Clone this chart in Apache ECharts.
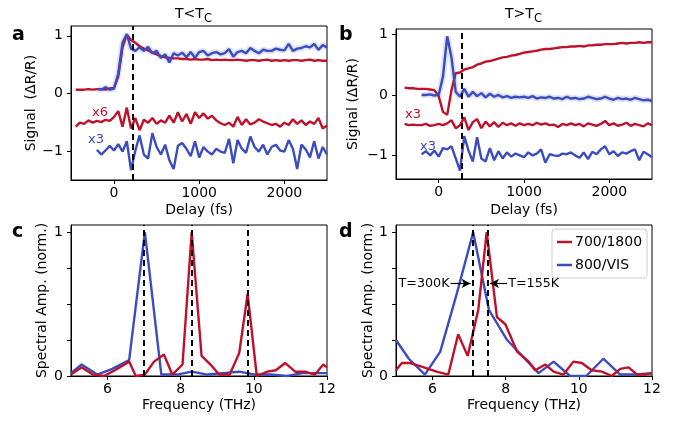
<!DOCTYPE html>
<html><head><meta charset="utf-8">
<script src="https://cdn.jsdelivr.net/npm/echarts@6/dist/echarts.min.js"></script>
<style>html,body{margin:0;padding:0;background:#fff}#c{width:682px;height:421px}</style>
</head><body><div id="c"></div>
<script>
// ---------- Panel a (T<Tc) ----------
const delayA = [-450,-400,-350,-300,-250,-200,-150,-100,-50,0,50,100,150,200,250,300,350,400,450,500,550,600,650,700,750,800,850,900,950,1000,1050,1100,1150,1200,1250,1300,1350,1400,1450,1500,1550,1600,1650,1700,1750,1800,1850,1900,1950,2000,2050,2100,2150,2200,2250,2300,2350,2400,2450,2500];
const aRedMain = [0.07,0.07,0.07,0.08,0.07,0.08,0.08,0.07,0.09,0.10,0.30,0.80,1.02,0.93,0.88,0.82,0.78,0.75,0.71,0.68,0.65,0.63,0.62,0.61,0.61,0.60,0.60,0.59,0.60,0.59,0.59,0.60,0.58,0.59,0.58,0.59,0.58,0.58,0.59,0.58,0.57,0.58,0.58,0.57,0.58,0.59,0.57,0.58,0.57,0.58,0.57,0.58,0.58,0.57,0.58,0.59,0.57,0.58,0.57,0.57];
const aBlueMain = [null,null,null,null,null,0.08,0.07,0.11,0.07,0.09,0.35,0.88,1.03,0.78,0.74,0.80,0.74,0.81,0.70,0.74,0.62,0.68,0.54,0.70,0.66,0.71,0.63,0.72,0.62,0.72,0.74,0.66,0.70,0.72,0.68,0.70,0.77,0.64,0.72,0.74,0.70,0.79,0.74,0.70,0.76,0.74,0.74,0.78,0.76,0.75,0.86,0.74,0.78,0.79,0.82,0.80,0.86,0.76,0.84,0.80];
const aRedX6 = [-0.57,-0.50,-0.52,-0.46,-0.50,-0.47,-0.49,-0.45,-0.47,-0.40,-0.30,-0.57,-0.24,-0.60,-0.42,-0.63,-0.45,-0.50,-0.42,-0.52,-0.46,-0.50,-0.38,-0.50,-0.32,-0.48,-0.35,-0.52,-0.32,-0.42,-0.34,-0.43,-0.38,-0.46,-0.51,-0.54,-0.50,-0.57,-0.40,-0.54,-0.44,-0.53,-0.50,-0.44,-0.48,-0.51,-0.54,-0.52,-0.57,-0.50,-0.54,-0.44,-0.52,-0.46,-0.54,-0.48,-0.52,-0.42,-0.60,-0.55];
const aBlueX3 = [null,null,null,null,null,-0.97,-1.05,-0.98,-0.90,-0.98,-0.87,-1.00,-0.82,-1.32,-0.98,-0.72,-1.05,-1.12,-0.68,-0.92,-1.05,-0.88,-1.15,-1.30,-0.90,-0.85,-0.95,-1.08,-0.82,-1.10,-0.92,-1.00,-1.05,-0.95,-1.00,-1.02,-0.78,-1.20,-0.80,-0.95,-1.02,-0.74,-0.92,-1.00,-0.88,-1.05,-0.92,-0.88,-0.98,-1.00,-0.80,-0.95,-1.30,-0.88,-0.96,-1.10,-0.82,-1.12,-0.92,-1.05];
const markA = 220;

// ---------- Panel b (T>Tc) ----------
const delayB = [-400,-350,-300,-250,-200,-150,-100,-50,0,50,100,150,200,250,300,350,400,450,500,550,600,650,700,750,800,850,900,950,1000,1050,1100,1150,1200,1250,1300,1350,1400,1450,1500,1550,1600,1650,1700,1750,1800,1850,1900,1950,2000,2050,2100,2150,2200,2250,2300,2350,2400,2450,2500];
const bRedMain = [0.12,0.11,0.11,0.10,0.10,0.10,0.09,0.08,-0.02,-0.28,-0.33,0.08,0.36,0.37,0.42,0.44,0.46,0.50,0.52,0.55,0.56,0.58,0.60,0.62,0.63,0.65,0.66,0.68,0.70,0.71,0.72,0.73,0.75,0.76,0.76,0.77,0.78,0.79,0.79,0.80,0.80,0.81,0.80,0.82,0.82,0.83,0.83,0.84,0.84,0.84,0.85,0.86,0.85,0.86,0.86,0.87,0.86,0.87,0.87];
const bBlueMain = [null,null,null,null,0.00,0.00,0.01,-0.01,0.00,0.30,0.97,0.62,0.05,-0.03,0.10,-0.03,0.05,-0.02,0.03,-0.04,0.02,-0.03,0.00,-0.04,-0.02,-0.05,-0.03,-0.04,-0.03,-0.05,-0.02,-0.06,-0.04,-0.05,-0.03,-0.06,-0.05,-0.07,-0.03,-0.06,-0.05,-0.07,-0.06,-0.03,-0.05,-0.07,-0.06,-0.03,-0.06,-0.08,-0.05,-0.07,-0.06,-0.08,-0.05,-0.07,-0.09,-0.08,-0.10];
const bRedX3 = [-0.48,-0.50,-0.49,-0.50,-0.50,-0.48,-0.51,-0.50,-0.48,-0.50,-0.47,-0.42,-0.55,-0.50,-0.37,-0.58,-0.45,-0.40,-0.55,-0.44,-0.52,-0.45,-0.53,-0.46,-0.50,-0.47,-0.51,-0.47,-0.50,-0.48,-0.50,-0.46,-0.49,-0.47,-0.50,-0.49,-0.53,-0.48,-0.50,-0.47,-0.50,-0.48,-0.52,-0.47,-0.49,-0.51,-0.48,-0.43,-0.50,-0.47,-0.51,-0.49,-0.46,-0.51,-0.48,-0.50,-0.52,-0.47,-0.50];
const bBlueX3 = [null,null,null,null,-0.98,-0.93,-1.00,-0.92,-1.02,-0.88,-0.90,-0.85,-1.05,-1.25,-0.68,-0.92,-1.10,-0.70,-1.05,-1.10,-0.88,-1.08,-0.93,-1.05,-0.95,-1.02,-0.97,-1.00,-1.03,-0.95,-1.00,-0.97,-0.90,-1.12,-0.98,-1.00,-1.01,-0.97,-0.98,-0.95,-1.00,-1.04,-0.95,-1.06,-0.94,-0.98,-0.90,-0.85,-0.98,-0.93,-1.01,-0.95,-0.97,-0.93,-0.90,-1.08,-0.94,-0.98,-1.03];
const markB = 270;

// ---------- Panel c (spectra, T<Tc) ----------
const freqRedC = [5.0,5.29,5.6,5.9,6.2,6.59,6.77,7.02,7.27,7.54,7.77,8.05,8.3,8.57,8.85,9.05,9.34,9.6,9.83,10.08,10.37,10.6,10.86,11.13,11.4,11.67,11.9,12.0];
const ampRedC  = [0.01,0.06,0.01,0.0,0.04,0.10,0.0,0.01,0.10,0.15,0.01,0.08,1.0,0.14,0.07,0.01,0.01,0.16,0.57,0.0,0.03,0.04,0.09,0.03,0.03,0.01,0.08,0.06];
const freqBlueC = [5.0,5.29,5.72,6.13,6.59,7.02,7.47,7.9,8.3,8.73,9.16,9.6,10.03,10.46,10.9,11.33,11.76,12.0];
const ampBlueC  = [0.02,0.08,0.01,0.05,0.11,1.0,0.01,0.01,0.03,0.01,0.02,0.03,0.01,0.01,0.0,0.02,0.02,0.02];
const marksC = [7.0, 8.3, 9.83];

// ---------- Panel d (spectra, T>Tc) ----------
const freqRedD = [5.0,5.16,5.39,5.7,6.11,6.43,6.7,6.96,7.25,7.48,7.76,7.99,8.31,8.63,8.81,9.08,9.31,9.58,9.85,10.08,10.35,10.63,10.9,11.13,11.36,11.59,11.8,12.0];
const ampRedD  = [0.04,0.09,0.09,0.065,0.03,0.01,0.29,0.14,0.46,1.0,0.41,0.36,0.17,0.10,0.04,0.08,0.03,0.01,0.10,0.09,0.04,0.03,0.0,0.05,0.06,0.01,0.01,0.02];
const freqBlueD = [5.0,5.35,5.79,6.21,6.67,7.11,7.54,8.04,8.45,8.9,9.31,9.76,10.2,10.67,11.13,11.56,12.0];
const ampBlueD  = [0.25,0.12,0.01,0.17,0.58,1.0,0.46,0.25,0.14,0.02,0.10,0.0,0.0,0.12,0.01,0.01,0.02];
const marksD = [7.1, 7.5];

const seriesNames = ['700/1800', '800/VIS'];
const timeTicks = [0, 1000, 2000];
const sigTicks = [-1, 0, 1];
const freqTicks = [6, 8, 10, 12];
const ampTicks = [0, 0.25, 0.5, 0.75, 1];
const ampLabels = [0, 1];

const RED = '#c0112b', BLUE = '#3b4cc0', BAND = 'rgba(59,76,192,0.16)';
const FONT = 'DejaVu Sans';
const minus = v => String(v).replace('-', '\u2212');
function pairs(x, y) { const o = []; for (let i = 0; i < x.length; i++) if (y[i] !== null) o.push([x[i], y[i]]); return o; }

const grids = [
  {left: 71, top: 26, width: 256, height: 154},
  {left: 396, top: 29, width: 256, height: 150},
  {left: 71, top: 225, width: 256, height: 151},
  {left: 396, top: 225, width: 256, height: 151}
].map(g => Object.assign({show: true, borderColor: '#000', borderWidth: 1, backgroundColor: 'transparent', containLabel: false, outerBoundsMode: 'none'}, g));

const txt = {color: '#000', fontSize: 14, fontFamily: FONT};
function axis(gi, min, max, ticks, labels, name, gap, fmt) {
  return {type: 'value', gridIndex: gi, min, max,
    axisLine: {show: true, onZero: false, lineStyle: {color: '#000', width: 1}},
    axisTick: {show: true, length: 4, inside: false, customValues: ticks, lineStyle: {color: '#000', width: 1}},
    axisLabel: Object.assign({customValues: labels, margin: 6, formatter: fmt || (v => String(v))}, txt),
    splitLine: {show: false},
    name, nameLocation: 'middle', nameGap: gap, nameTextStyle: txt};
}
const xAxis = [
  axis(0, -505, 2500, timeTicks, timeTicks, 'Delay (fs)', 23),
  axis(1, -500, 2500, timeTicks, timeTicks, 'Delay (fs)', 24),
  axis(2, 5, 12, freqTicks, freqTicks, 'Frequency (THz)', 22),
  axis(3, 5, 12, freqTicks, freqTicks, 'Frequency (THz)', 22)
];
const yAxis = [
  axis(0, -1.49, 1.17, sigTicks, sigTicks, 'Signal  (\u0394R/R)', 33, minus),
  axis(1, -1.39, 1.09, sigTicks, sigTicks, 'Signal (\u0394R/R)', 36, minus),
  axis(2, 0, 1.05, ampTicks, ampLabels, 'Spectral Amp. (norm.)', 22),
  axis(3, 0, 1.05, ampTicks, ampLabels, 'Spectral Amp. (norm.)', 20)
];
yAxis.forEach(a => a.axisLabel.margin = 8);

const dashStyle = {color: '#000', type: [6, 4], width: 2};
function vlines(vals) {
  return {silent: true, symbol: ['none', 'none'], label: {show: false}, lineStyle: dashStyle, data: vals.map(v => ({xAxis: v}))};
}
function line(name, gi, data, color, width, extra) {
  return Object.assign({type: 'line', name, xAxisIndex: gi, yAxisIndex: gi, data, showSymbol: false, symbol: 'none',
    lineStyle: {color, width: width || 2.4}, itemStyle: {color}, animation: false}, extra || {});
}
const arrowLabel = {show: true, position: 'start', distance: 1, color: '#000', fontSize: 12.7, fontFamily: FONT};

const series = [
  line('_aBand', 0, pairs(delayA, aBlueMain), BAND, 6),
  line('_aRed', 0, pairs(delayA, aRedMain), RED),
  line('_aBlue', 0, pairs(delayA, aBlueMain), BLUE),
  line('_aRed6', 0, pairs(delayA, aRedX6), RED),
  line('_aBlue3', 0, pairs(delayA, aBlueX3), BLUE, 2.4, {markLine: vlines([markA])}),

  line('_bBand', 1, pairs(delayB, bBlueMain), BAND, 6),
  line('_bRed', 1, pairs(delayB, bRedMain), RED),
  line('_bBlue', 1, pairs(delayB, bBlueMain), BLUE),
  line('_bRed3', 1, pairs(delayB, bRedX3), RED),
  line('_bBlue3', 1, pairs(delayB, bBlueX3), BLUE, 2.4, {markLine: vlines([markB])}),

  line(seriesNames[1], 2, pairs(freqBlueC, ampBlueC), BLUE),
  line(seriesNames[0], 2, pairs(freqRedC, ampRedC), RED, 2.4, {markLine: vlines(marksC)}),

  line(seriesNames[1], 3, pairs(freqBlueD, ampBlueD), BLUE),
  line(seriesNames[0], 3, pairs(freqRedD, ampRedD), RED, 2.4, {clip: false, markLine: {
    silent: true, symbol: ['none', 'none'], label: {show: false}, lineStyle: dashStyle,
    data: marksD.map(v => ({xAxis: v})).concat([
      [{coord: [6.49, 0.644], symbol: 'none', lineStyle: {type: 'solid', width: 1.2, color: '#000'}, label: Object.assign({formatter: 'T=300K'}, arrowLabel)},
       {coord: [7.04, 0.644], symbol: 'arrow', symbolSize: [7, 9]}],
      [{coord: [8.04, 0.644], symbol: 'none', lineStyle: {type: 'solid', width: 1.2, color: '#000'}, label: Object.assign({formatter: 'T=155K'}, arrowLabel)},
       {coord: [7.57, 0.644], symbol: 'arrow', symbolSize: [7, 9]}]
    ])}})
];

function T(text, x, y, opt) {
  return {type: 'text', x, y, silent: true, style: Object.assign({text, fill: '#000', font: '14px "DejaVu Sans"', textVerticalAlign: 'middle'}, opt || {})};
}
const graphic = [
  T('a', 12, 35, {font: 'bold 19px "DejaVu Sans"'}),
  T('b', 339, 35, {font: 'bold 19px "DejaVu Sans"'}),
  T('c', 12, 232, {font: 'bold 19px "DejaVu Sans"'}),
  T('d', 339, 232, {font: 'bold 19px "DejaVu Sans"'}),
  T('T<T', 175, 14),
  T('C', 204, 19, {font: '11.5px "DejaVu Sans"'}),
  T('T>T', 505, 14),
  T('C', 534, 19, {font: '11.5px "DejaVu Sans"'}),
  T('x6', 100, 113, {fill: RED, textAlign: 'center', font: '13px "DejaVu Sans"'}),
  T('x3', 96, 140, {fill: BLUE, textAlign: 'center', font: '13px "DejaVu Sans"'}),
  T('x3', 413, 115, {fill: RED, textAlign: 'center', font: '13px "DejaVu Sans"'}),
  T('x3', 428, 147, {fill: BLUE, textAlign: 'center', font: '13px "DejaVu Sans"'})
];

const chart = echarts.init(document.getElementById('c'), null, {renderer: 'canvas'});
chart.setOption({
  animation: false,
  backgroundColor: '#fff',
  textStyle: {fontFamily: FONT},
  grid: grids, xAxis, yAxis, series, graphic,
  legend: {data: seriesNames, orient: 'vertical', left: 552, top: 229, icon: 'rect', itemWidth: 15, itemHeight: 2.5,
    itemGap: 9, padding: [6, 5, 6, 5], borderColor: '#ccc', borderWidth: 1, borderRadius: 3, selectedMode: false,
    textStyle: {color: '#000', fontSize: 14, fontFamily: FONT, padding: [0, 0, 0, -2]}}
});
</script></body></html>
